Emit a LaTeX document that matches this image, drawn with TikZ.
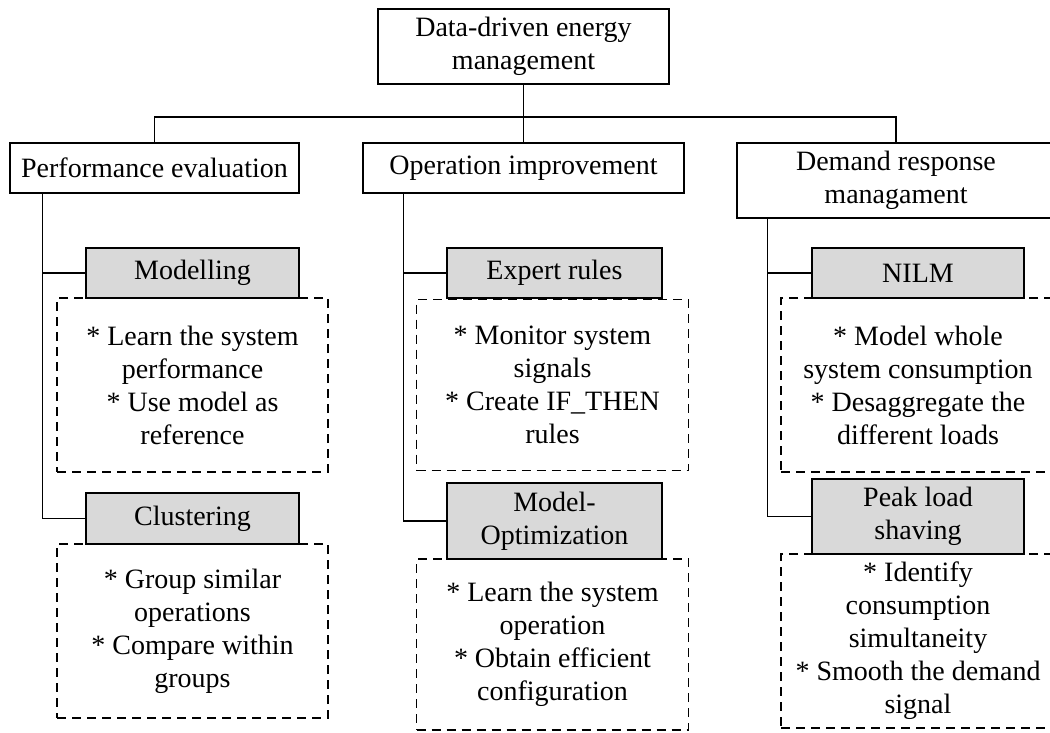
\documentclass[tikz,border=0pt]{standalone}
\usepackage{fontspec}
\setmainfont{Liberation Serif}
\definecolor{boxgray}{HTML}{D9D9D9}
\tikzset{
  base/.style={draw=black, line width=1.3pt, inner sep=0pt, align=center,
    font=\fontsize{28}{33}\selectfont},
  mainbox/.style={base, fill=white},
  graybox/.style={base, fill=boxgray},
  dashbox/.style={base, line width=1.4pt, dash pattern=on 9pt off 6pt, fill=white},
  conn/.style={line width=1.3pt}
}
\begin{document}
\begin{tikzpicture}[x=1pt,y=-1pt]
\useasboundingbox (0,0) rectangle (1050,733);
\clip (0,0) rectangle (1050,733);
\fill[white] (0,0) rectangle (1050,733);
% level 0 and 1
\node[mainbox, minimum width=291pt, minimum height=75pt] (top) at (523.5,46.5) {Data-driven energy\\management};
\node[mainbox, minimum width=289pt, minimum height=50pt] (perf) at (154.5,168) {Performance evaluation};
\node[mainbox, minimum width=321pt, minimum height=50pt] (op) at (523.5,168) {Operation improvement};
\node[mainbox, minimum width=318pt, minimum height=75pt] (dem) at (896,180.5) {Demand response\\managament};
\coordinate (hub) at (523.5,117);
\draw[conn] (top.south) -- (op.north);
\draw[conn] (perf.north) |- (hub) -| (dem.north);
% dashed description boxes
\node[dashbox, minimum width=271pt, minimum height=174pt] (d1) at (192.5,385) {* Learn the system\\performance\\* Use model as\\reference};
\node[dashbox, minimum width=271pt, minimum height=174pt] (d2) at (192.5,631) {* Group similar\\operations\\* Compare within\\groups};
\node[dashbox, minimum width=272pt, minimum height=171pt] (d3) at (552.5,385) {* Monitor system\\signals\\* Create IF\_THEN\\rules};
\node[dashbox, minimum width=272pt, minimum height=171pt] (d4) at (552.5,644.5) {* Learn the system\\operation\\* Obtain efficient\\configuration};
\node[dashbox, minimum width=274pt, minimum height=174pt] (d5) at (918,385) {* Model whole\\system consumption\\* Desaggregate the\\different loads};
\node[dashbox, minimum width=274pt, minimum height=174pt] (d6) at (918,641) {* Identify\\consumption\\simultaneity\\* Smooth the demand\\signal};
% gray method boxes
\node[graybox, minimum width=213pt, minimum height=50pt] (mod) at (192.5,273) {Modelling};
\node[graybox, minimum width=213pt, minimum height=51pt] (clu) at (192.5,518.5) {Clustering};
\node[graybox, minimum width=215pt, minimum height=50pt] (exp) at (554.5,273) {Expert rules};
\node[graybox, minimum width=215pt, minimum height=76pt] (mo) at (554.5,521) {Model-\\Optimization};
\node[graybox, minimum width=212pt, minimum height=50pt] (nilm) at (918,273) {NILM};
\node[graybox, minimum width=212pt, minimum height=75pt] (peak) at (918,516.5) {Peak load\\shaving};
% branch connectors
\draw[conn] ([xshift=33pt]perf.south west) |- (clu.west);
\draw[conn] (mod.west) -- ++(-43pt,0);
\draw[conn] ([xshift=41pt]op.south west) |- (mo.west);
\draw[conn] (exp.west) -- ++(-43pt,0);
\draw[conn] ([xshift=31pt]dem.south west) |- (peak.west);
\draw[conn] (nilm.west) -- ++(-44pt,0);
\end{tikzpicture}
\end{document}
